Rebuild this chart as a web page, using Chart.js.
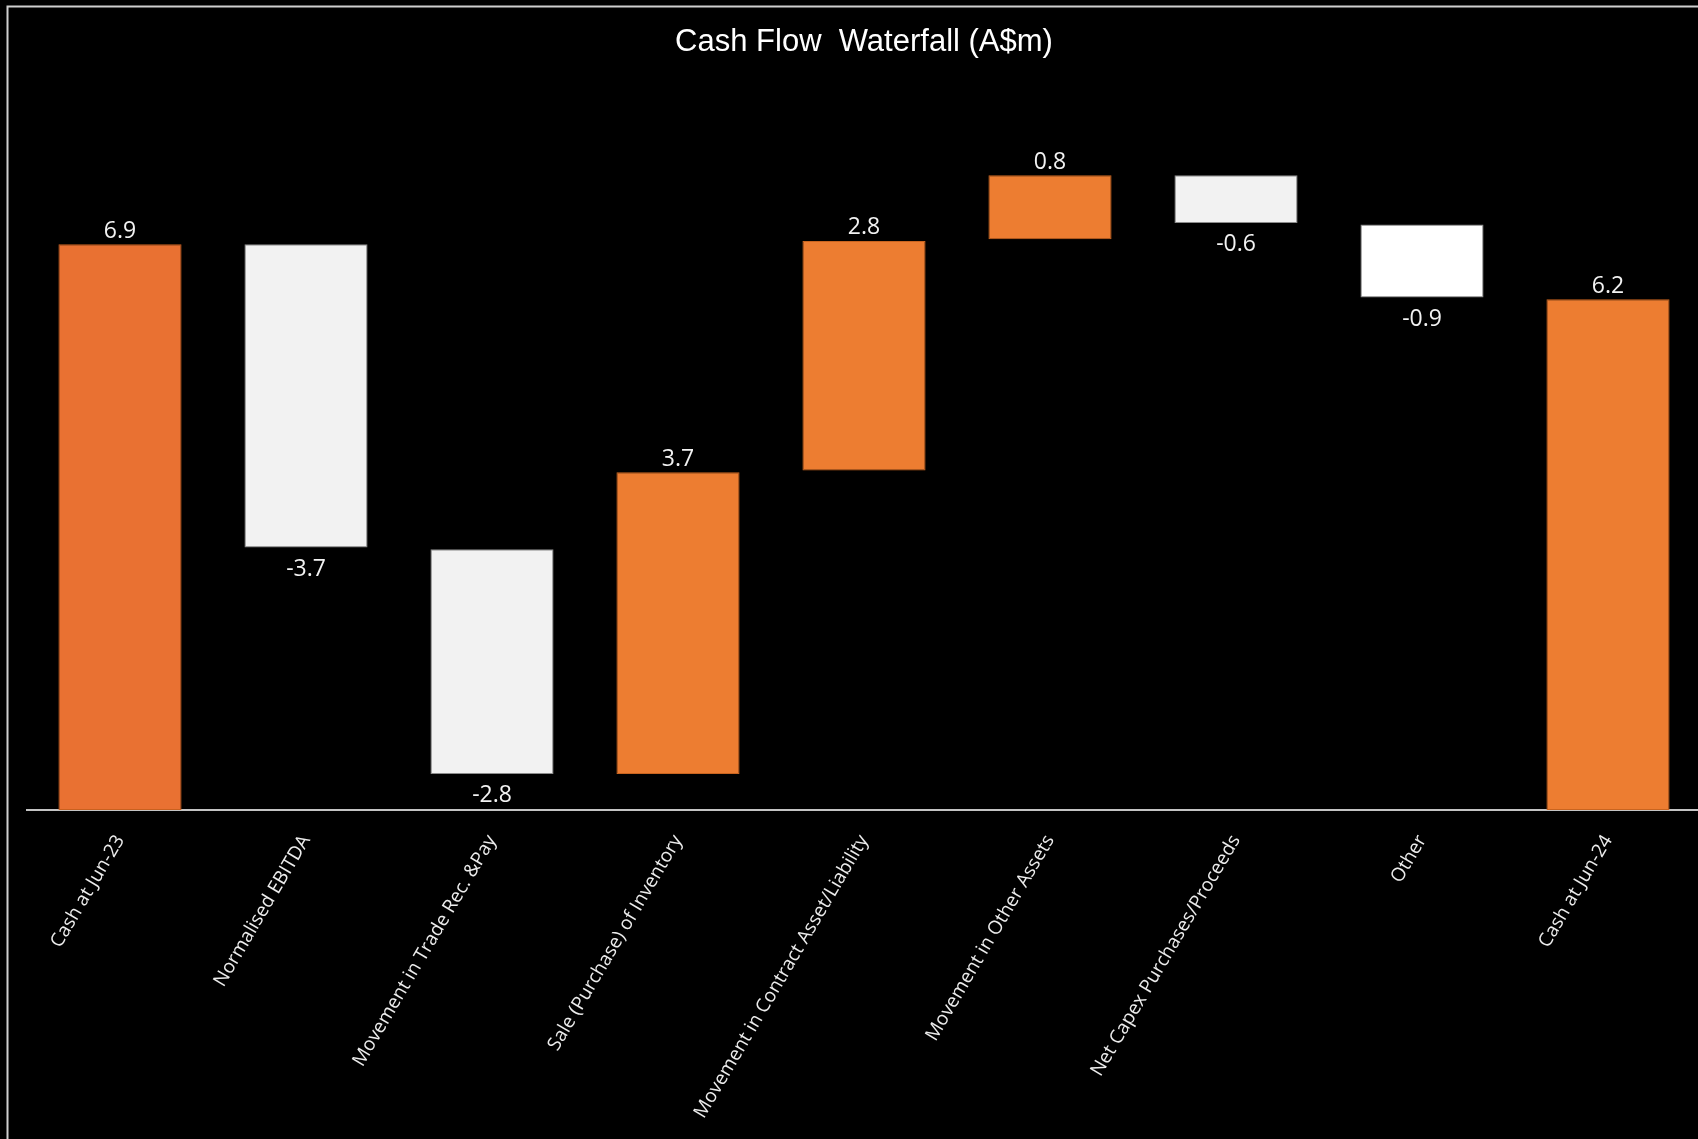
<!DOCTYPE html>
<html>
<head>
<meta charset="utf-8">
<script src="https://cdn.jsdelivr.net/npm/chart.js@4.4.1/dist/chart.umd.min.js"></script>
<style>
  html, body { margin: 0; padding: 0; background: #000; overflow: hidden; }
  #wrap { position: relative; width: 1698px; height: 1139px; overflow: hidden; }
</style>
</head>
<body>
<div id="wrap"><canvas id="c" width="1701" height="1139"></canvas></div>
<script>
const chartTitle = 'Cash Flow  Waterfall (A$m)';
const categories = [
  'Cash at Jun-23',
  'Normalised EBITDA',
  'Movement in Trade Rec. &Pay',
  'Sale (Purchase) of Inventory',
  'Movement in Contract Asset/Liability',
  'Movement in Other Assets',
  'Net Capex Purchases/Proceeds',
  'Other',
  'Cash at Jun-24'
];
const barStart = [0, 6.90, 3.18, 0.44, 4.14, 6.96, 7.74, 7.14, 0];
const barEnd   = [6.90, 3.20, 0.44, 4.12, 6.94, 7.74, 7.16, 6.25, 6.23];
const valueLabels = ['6.9', '-3.7', '-2.8', '3.7', '2.8', '0.8', '-0.6', '-0.9', '6.2'];
const barColors = ['#E97132', '#F2F2F2', '#F2F2F2', '#ED7D31', '#ED7D31', '#ED7D31', '#F2F2F2', '#FFFFFF', '#ED7D31'];
const barBorders = ['#C9601F', '#8C8C8C', '#8C8C8C', '#C9641F', '#C9641F', '#C9641F', '#8C8C8C', '#8C8C8C', '#C9641F'];

const floating = barStart.map((s, i) => [s, barEnd[i]]);

const framePlugin = {
  id: 'frame',
  beforeDraw(chart) {
    const ctx = chart.ctx;
    ctx.save();
    ctx.fillStyle = '#000';
    ctx.fillRect(0, 0, chart.width, chart.height);
    ctx.strokeStyle = '#cfcfcf';
    ctx.lineWidth = 2;
    ctx.strokeRect(7.5, 6.5, chart.width + 50, chart.height + 50);
    ctx.restore();
  }
};

const labelPlugin = {
  id: 'valueLabels',
  afterDatasetsDraw(chart) {
    const ctx = chart.ctx;
    const meta = chart.getDatasetMeta(0);
    ctx.save();
    ctx.font = '23px "Open Sans", "Noto Sans", sans-serif';
    ctx.fillStyle = '#f2f2f2';
    ctx.textAlign = 'center';
    ctx.textBaseline = 'middle';
    meta.data.forEach((el, i) => {
      const p = el.getProps(['x', 'y', 'base'], true);
      const top = Math.min(p.y, p.base);
      const bottom = Math.max(p.y, p.base);
      const txt = valueLabels[i];
      if (txt.startsWith('-')) {
        ctx.fillText(txt, p.x, bottom + 22);
      } else {
        ctx.fillText(txt, p.x, top - 13);
      }
    });
    ctx.restore();
  }
};

new Chart(document.getElementById('c'), {
  type: 'bar',
  data: {
    labels: categories,
    datasets: [{
      data: floating,
      backgroundColor: barColors,
      borderColor: barBorders,
      borderWidth: 1,
      borderSkipped: false,
      barPercentage: 0.662,
      categoryPercentage: 1.0
    }]
  },
  options: {
    responsive: false,
    animation: false,
    devicePixelRatio: 1,
    layout: { padding: { left: 27, right: 0, top: 0, bottom: 0 } },
    plugins: {
      legend: { display: false },
      tooltip: { enabled: false },
      title: {
        display: true,
        text: chartTitle,
        color: '#ffffff',
        font: { family: '"Liberation Sans", Arial, sans-serif', size: 31, weight: 'normal', lineHeight: 1.2 },
        padding: { top: 23.5, bottom: 52.3 }
      }
    },
    scales: {
      x: {
        grid: { display: false, drawTicks: false, tickLength: 0 },
        border: { display: true, color: '#c4c4c4', width: 2 },
        ticks: {
          color: '#ececec',
          font: { family: '"Open Sans", "Noto Sans", sans-serif', size: 19 },
          minRotation: 59.5,
          maxRotation: 59.5,
          autoSkip: false,
          padding: 21
        },
        afterFit(scale) { scale.height = 329; }
      },
      y: {
        display: false,
        min: 0,
        max: 8.5,
        grid: { display: false }
      }
    }
  },
  plugins: [framePlugin, labelPlugin]
});
</script>
</body>
</html>
